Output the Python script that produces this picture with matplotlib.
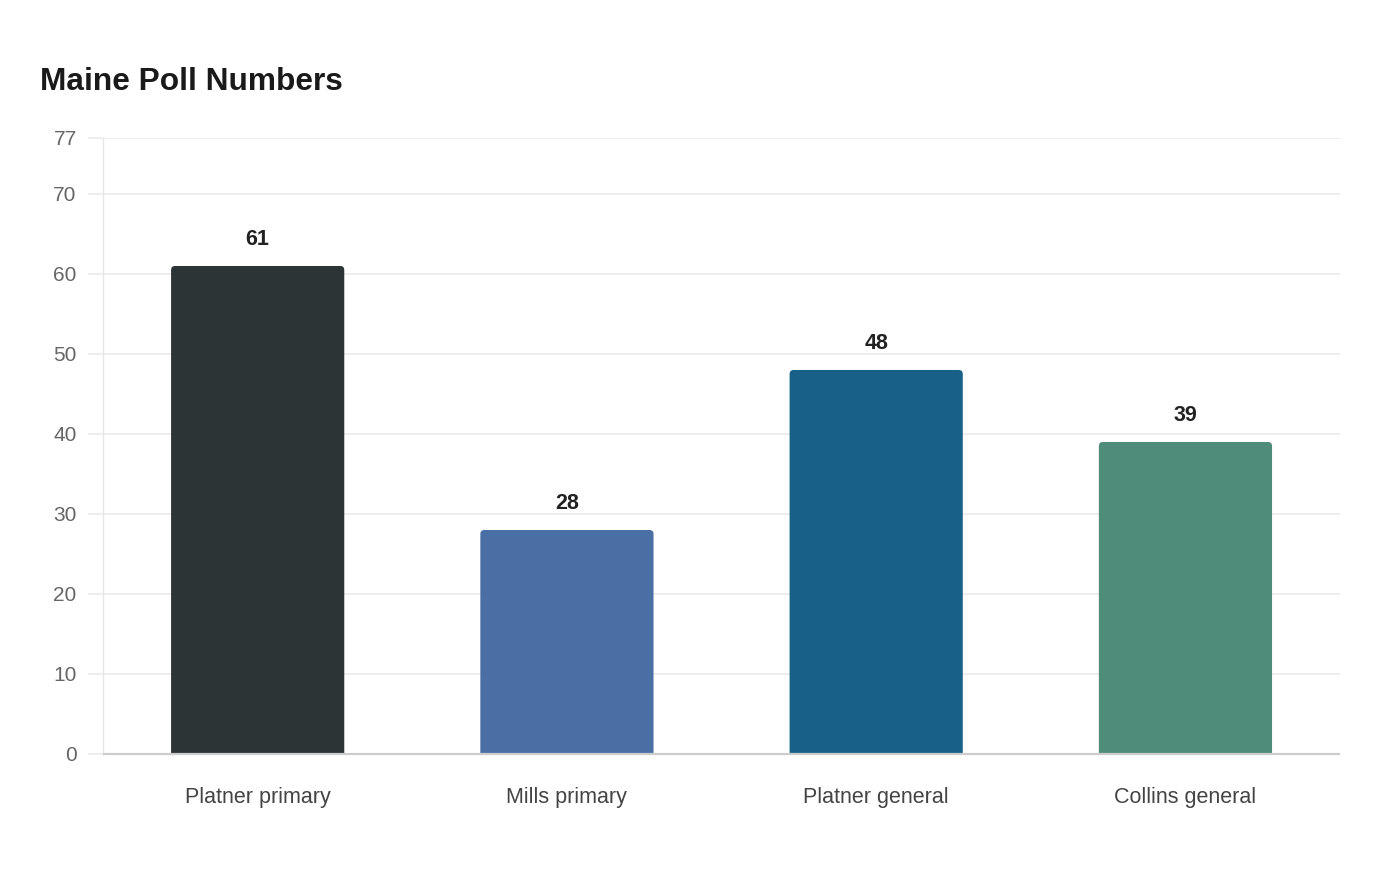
import matplotlib
matplotlib.use("Agg")
import matplotlib.pyplot as plt
from matplotlib.patches import FancyBboxPatch

categories = ["Platner primary", "Mills primary", "Platner general", "Collins general"]
values = [61, 28, 48, 39]
colors = ["#2d3436", "#4a6fa5", "#186087", "#4f8c7a"]
yticks = [0, 10, 20, 30, 40, 50, 60, 70, 77]

plt.rcParams['font.family'] = ['Liberation Sans', 'DejaVu Sans']

fig = plt.figure(figsize=(14, 8.8), dpi=100)
ax = fig.add_axes([0.0736, 0.1432, 0.8836, 0.7])
ax.set_xlim(-0.5, len(categories) - 0.5)
ax.set_ylim(0, 77)

# pixels per data unit, to keep the corner rounding circular
p0 = ax.transData.transform((0, 0))
p1 = ax.transData.transform((1, 1))
px_x = p1[0] - p0[0]
px_y = p1[1] - p0[1]
radius_px = 4
width = 0.56

for i, (v, c) in enumerate(zip(values, colors)):
    patch = FancyBboxPatch((i - width / 2, -2), width, v + 2,
                           boxstyle="round,pad=0,rounding_size=%f" % (radius_px / px_x),
                           mutation_aspect=px_x / px_y,
                           facecolor=c, edgecolor="none", zorder=3)
    ax.add_patch(patch)
    ax.text(i, v + 26 / px_y, str(v), ha="center", va="center",
            fontsize=15.5, fontweight="bold", color="#222222", zorder=4)

ax.set_yticks(yticks)
ax.set_yticklabels([str(t) for t in yticks], fontsize=15, color="#666666")
ax.tick_params(axis="y", length=11, color="#ebebeb", width=1.2, pad=8)
ax.set_xticks(range(len(categories)))
ax.set_xticklabels(categories, fontsize=15.5, color="#444444")
ax.tick_params(axis="x", length=0, pad=24)
ax.grid(axis="y", color="#ebebeb", linewidth=1.2, zorder=0)

for s in ["top", "right"]:
    ax.spines[s].set_visible(False)
ax.spines["left"].set_color("#e6e6e6")
ax.spines["left"].set_linewidth(1)
ax.spines["bottom"].set_color("#cccccc")
ax.spines["bottom"].set_linewidth(1.6)
ax.spines["bottom"].set_capstyle("butt")
ax.spines["bottom"].set_zorder(5)

fig.text(40 / 1400, 1 - 82 / 880, "Maine Poll Numbers", fontsize=22.8,
         fontweight="bold", color="#1a1a1a", ha="left", va="center")

fig.savefig("out.png", dpi=100, facecolor="white")
